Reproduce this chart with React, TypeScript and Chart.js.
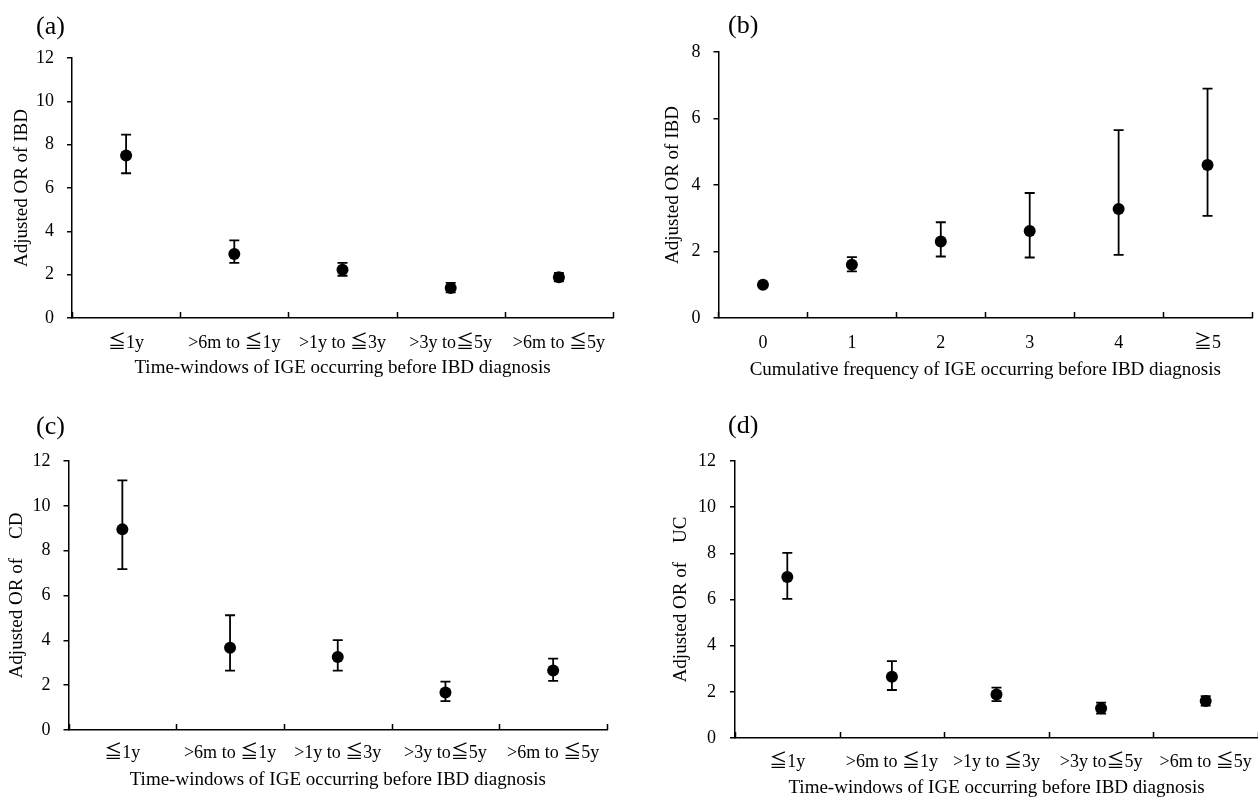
import React, { useEffect, useRef } from "react";
import { Chart, registerables } from "chart.js";

Chart.register(...registerables);

// ---------- data ----------
const timeWindowLabels = ["≦1y", ">6m to ≦1y", ">1y to ≦3y", ">3y to≦5y", ">6m to ≦5y"];
const frequencyLabels = ["0", "1", "2", "3", "4", "≧5"];

const ibdWindowOR = [7.5, 2.95, 2.23, 1.38, 1.88];
const ibdWindowLow = [6.68, 2.54, 1.95, 1.18, 1.69];
const ibdWindowHigh = [8.46, 3.58, 2.54, 1.62, 2.08];

const ibdFreqOR = [1.0, 1.6, 2.3, 2.62, 3.28, 4.6];
const ibdFreqLow = [null, 1.4, 1.85, 1.82, 1.9, 3.07];
const ibdFreqHigh = [null, 1.83, 2.88, 3.76, 5.65, 6.9];

const cdWindowOR = [8.95, 3.67, 3.26, 1.67, 2.65];
const cdWindowLow = [7.18, 2.65, 2.65, 1.29, 2.19];
const cdWindowHigh = [11.14, 5.12, 4.01, 2.16, 3.18];

const ucWindowOR = [6.97, 2.65, 1.88, 1.29, 1.6];
const ucWindowLow = [6.03, 2.08, 1.6, 1.06, 1.4];
const ucWindowHigh = [8.02, 3.33, 2.18, 1.53, 1.81];

const yTicksTwelve = { max: 12, step: 2 };
const yTicksEight = { max: 8, step: 2 };

const FONT = "'Liberation Serif', 'Times New Roman', 'Noto Sans CJK JP', 'DejaVu Serif', serif";

// ---------- plugins ----------
const errorBarPlugin = {
  id: "errorBars",
  afterDatasetsDraw(chart: any, _args: any, opts: any) {
    const { ctx } = chart;
    const xs = chart.scales.x;
    const ys = chart.scales.y;
    const low: (number | null)[] = opts.low || [];
    const high: (number | null)[] = opts.high || [];
    ctx.save();
    ctx.strokeStyle = "#000";
    ctx.lineWidth = 1.8;
    const cap = opts.cap ?? 5;
    for (let i = 0; i < low.length; i++) {
      const lo = low[i];
      const hi = high[i];
      if (lo == null || hi == null) continue;
      const x = xs.getPixelForValue(i);
      const y1 = ys.getPixelForValue(lo);
      const y2 = ys.getPixelForValue(hi);
      ctx.beginPath();
      ctx.moveTo(x, y1);
      ctx.lineTo(x, y2);
      ctx.moveTo(x - cap, y1);
      ctx.lineTo(x + cap, y1);
      ctx.moveTo(x - cap, y2);
      ctx.lineTo(x + cap, y2);
      ctx.stroke();
    }
    ctx.restore();
  },
};

const insideTickPlugin = {
  id: "insideTicks",
  afterDraw(chart: any, _args: any, opts: any) {
    const xs = chart.scales.x;
    const n = chart.data.labels.length;
    if (n < 1) return;
    const p0 = xs.getPixelForValue(0);
    const half = n > 1 ? (xs.getPixelForValue(1) - p0) / 2 : (xs.right - xs.left) / 2;
    const { ctx } = chart;
    const base = chart.chartArea.bottom;
    const len = opts.length ?? 6;
    ctx.save();
    ctx.strokeStyle = "#000";
    ctx.lineWidth = 1.5;
    ctx.beginPath();
    for (let i = 0; i <= n; i++) {
      const x = Math.round(p0 - half + i * 2 * half) + 0.5;
      ctx.moveTo(x, base);
      ctx.lineTo(x, base - len);
    }
    ctx.stroke();
    ctx.restore();
  },
};

// ---------- panel ----------
type PanelProps = {
  left: number;
  top: number;
  width: number;
  height: number;
  L: number;
  R: number;
  T: number;
  B: number;
  labelY: number;
  titleY: number;
  yTitleX: number;
  yLabelPad: number;
  labels: string[];
  values: number[];
  low: (number | null)[];
  high: (number | null)[];
  yMax: number;
  yStep: number;
  xTitle: string;
  yTitle: string;
};

function Panel(p: PanelProps) {
  const ref = useRef<HTMLCanvasElement | null>(null);
  useEffect(() => {
    if (!ref.current) return;
    const tickSize = 18;
    const titleSize = 19;
    const tickLH = tickSize * 1.2;
    const titleLH = titleSize * 1.2;
    const xAxisH = p.titleY + titleLH / 2 - p.B;
    const yTickLen = 5;
    const chart = new Chart(ref.current, {
      type: "line",
      data: {
        labels: p.labels,
        datasets: [
          {
            data: p.values,
            showLine: false,
            pointRadius: 6,
            pointHoverRadius: 6,
            pointBackgroundColor: "#000",
            pointBorderColor: "#000",
            pointBorderWidth: 0,
            borderColor: "#000",
            backgroundColor: "#000",
          },
        ],
      },
      options: {
        responsive: false,
        animation: false,
        events: [],
        layout: {
          padding: {
            left: 0,
            top: p.T,
            right: p.width - p.R,
            bottom: p.height - p.B - xAxisH,
          },
        },
        plugins: {
          legend: { display: false },
          tooltip: { enabled: false },
          title: { display: false },
          errorBars: { low: p.low, high: p.high, cap: 5 },
          insideTicks: { length: 6 },
        } as any,
        scales: {
          x: {
            type: "category",
            offset: true,
            grid: { display: false, drawTicks: false },
            border: { display: true, color: "#000", width: 1.5 },
            ticks: {
              color: "#000",
              font: { family: FONT, size: tickSize },
              padding: p.labelY - p.B - tickLH / 2,
              maxRotation: 0,
              minRotation: 0,
              autoSkip: false,
            },
            title: {
              display: true,
              text: p.xTitle,
              color: "#000",
              font: { family: FONT, size: titleSize },
              padding: { top: 0, bottom: 0 },
            },
            afterFit: (s: any) => {
              s.height = xAxisH;
            },
          },
          y: {
            type: "linear",
            min: 0,
            max: p.yMax,
            grid: {
              display: true,
              drawOnChartArea: false,
              drawTicks: true,
              tickLength: yTickLen,
              color: "#000",
              lineWidth: 1.5,
            },
            border: { display: true, color: "#000", width: 1.5 },
            ticks: {
              stepSize: p.yStep,
              color: "#000",
              font: { family: FONT, size: tickSize },
              padding: p.yLabelPad,
            },
            title: {
              display: true,
              text: p.yTitle,
              color: "#000",
              font: { family: FONT, size: titleSize },
              padding: { top: p.yTitleX - titleLH / 2, bottom: 0 },
            },
            afterFit: (s: any) => {
              s.width = p.L;
            },
          },
        },
      },
      plugins: [errorBarPlugin, insideTickPlugin],
    });
    return () => chart.destroy();
  }, []);
  return (
    <canvas
      ref={ref}
      width={p.width}
      height={p.height}
      style={{ position: "absolute", left: p.left, top: p.top, width: p.width, height: p.height }}
    />
  );
}

const labelStyle = (left: number, top: number): React.CSSProperties => ({
  position: "absolute",
  left,
  top,
  fontFamily: FONT,
  fontSize: 26,
  lineHeight: 1,
  color: "#000",
  whiteSpace: "pre",
});

export default function App() {
  return (
    <div
      style={{
        position: "absolute",
        left: 0,
        top: 0,
        width: 1258,
        height: 799,
        overflow: "hidden",
        background: "#fff",
      }}
    >
      <Panel
        left={0}
        top={0}
        width={629}
        height={420}
        L={72}
        R={613}
        T={58}
        B={318}
        labelY={343}
        titleY={368}
        yTitleX={22}
        yLabelPad={13}
        labels={timeWindowLabels}
        values={ibdWindowOR}
        low={ibdWindowLow}
        high={ibdWindowHigh}
        yMax={yTicksTwelve.max}
        yStep={yTicksTwelve.step}
        xTitle="Time-windows of IGE occurring before IBD diagnosis"
        yTitle="Adjusted OR of IBD"
      />
      <Panel
        left={629}
        top={0}
        width={629}
        height={420}
        L={89.5}
        R={624}
        T={52}
        B={318}
        labelY={343}
        titleY={370}
        yTitleX={44}
        yLabelPad={13}
        labels={frequencyLabels}
        values={ibdFreqOR}
        low={ibdFreqLow}
        high={ibdFreqHigh}
        yMax={yTicksEight.max}
        yStep={yTicksEight.step}
        xTitle="Cumulative frequency of IGE occurring before IBD diagnosis"
        yTitle="Adjusted OR of IBD"
      />
      <Panel
        left={0}
        top={400}
        width={629}
        height={420}
        L={68.5}
        R={607}
        T={61}
        B={330}
        labelY={353}
        titleY={380}
        yTitleX={17}
        yLabelPad={13}
        labels={timeWindowLabels}
        values={cdWindowOR}
        low={cdWindowLow}
        high={cdWindowHigh}
        yMax={yTicksTwelve.max}
        yStep={yTicksTwelve.step}
        xTitle="Time-windows of IGE occurring before IBD diagnosis"
        yTitle="Adjusted OR of    CD"
      />
      <Panel
        left={629}
        top={400}
        width={649}
        height={420}
        L={106}
        R={629}
        T={61}
        B={338}
        labelY={362}
        titleY={388}
        yTitleX={52}
        yLabelPad={14}
        labels={timeWindowLabels}
        values={ucWindowOR}
        low={ucWindowLow}
        high={ucWindowHigh}
        yMax={yTicksTwelve.max}
        yStep={yTicksTwelve.step}
        xTitle="Time-windows of IGE occurring before IBD diagnosis"
        yTitle="Adjusted OR of    UC"
      />
      <div style={labelStyle(36, 13)}>(a)</div>
      <div style={labelStyle(728, 12)}>(b)</div>
      <div style={labelStyle(36, 413)}>(c)</div>
      <div style={labelStyle(728, 412)}>(d)</div>
    </div>
  );
}
